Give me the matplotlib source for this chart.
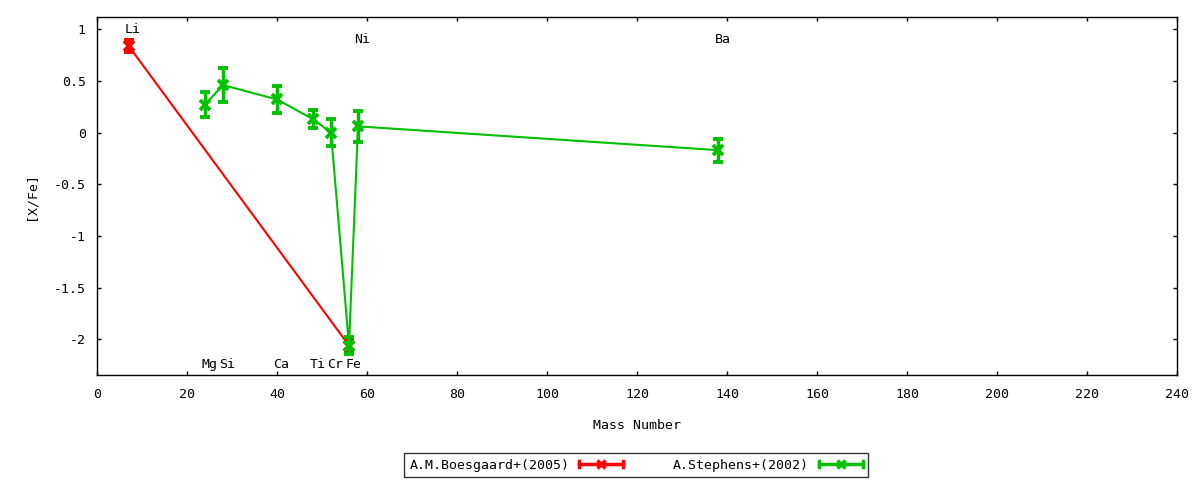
import matplotlib
matplotlib.use("Agg")
import matplotlib.pyplot as plt
from matplotlib.lines import Line2D
from matplotlib.legend_handler import HandlerBase

# ---- data ----
boes_mass = [7, 56]
boes_val = [0.84, -2.06]
boes_err = [0.06, 0.06]

steph_mass = [24, 28, 40, 48, 52, 56, 58, 138]
steph_val = [0.27, 0.46, 0.32, 0.13, 0.00, -2.06, 0.06, -0.17]
steph_err = [0.12, 0.16, 0.13, 0.09, 0.13, 0.08, 0.15, 0.11]

series_names = ["A.M.Boesgaard+(2005)", "A.Stephens+(2002)"]

elem_names = ["Li", "Mg", "Si", "Ca", "Ti", "Cr", "Fe", "Ni", "Ba"]
elem_mass = [7, 24, 28, 40, 48, 52, 56, 58, 138]
elem_label_y = [0.96, -2.28, -2.28, -2.28, -2.28, -2.28, -2.28, 0.865, 0.865]

x_ticks = list(range(0, 241, 20))
y_ticks = [1, 0.5, 0, -0.5, -1, -1.5, -2]
y_tick_labels = ["1", "0.5", "0", "-0.5", "-1", "-1.5", "-2"]

RED = "#ff0000"
GREEN = "#00c000"
FONT = "DejaVu Sans Mono"
FS = 9.5

plt.rcParams["font.family"] = [FONT]

fig = plt.figure(figsize=(12, 4.8), dpi=100)
ax = fig.add_axes([97 / 1200, 1 - 375 / 480, (1177 - 97) / 1200, (375 - 17.3) / 480])

ebkw = dict(lw=1.5, elinewidth=2.5, capsize=3.3, capthick=2.2,
            marker="x", markersize=7, markeredgewidth=2.8)
ax.errorbar(boes_mass, boes_val, yerr=boes_err, color=RED, **ebkw, zorder=3)
ax.errorbar(steph_mass, steph_val, yerr=steph_err, color=GREEN, **ebkw, zorder=4)

for name, m, yy in zip(elem_names, elem_mass, elem_label_y):
    ax.annotate(name, xy=(m, yy), xytext=(-2.5, 0), textcoords="offset points",
                ha="left", va="baseline", fontsize=FS, family=FONT)

ax.set_xlim(0, 240)
ax.set_ylim(-2.345, 1.115)
ax.set_xticks(x_ticks)
ax.set_xticklabels([str(t) for t in x_ticks])
ax.set_yticks(y_ticks)
ax.set_yticklabels(y_tick_labels)
ax.tick_params(direction="in", length=3, width=1, top=True, right=True,
               labelsize=FS, color="black")
ax.tick_params(axis="x", pad=9)
ax.tick_params(axis="y", pad=8)
for s in ax.spines.values():
    s.set_linewidth(1)
    s.set_color("black")

ax.set_xlabel("Mass Number", fontsize=FS, labelpad=13)
ax.set_ylabel("[X/Fe]", fontsize=FS, labelpad=12)


class ErrHandler(HandlerBase):
    def create_artists(self, legend, orig_handle, xdescent, ydescent,
                       width, height, fontsize, trans):
        c = orig_handle.get_color()
        y = height / 2 - ydescent
        x0 = -xdescent
        x1 = -xdescent + width
        h = height * 0.35
        arts = [
            Line2D([x0, x1], [y, y], color=c, lw=2.5),
            Line2D([x0, x0], [y - h, y + h], color=c, lw=2.5),
            Line2D([x1, x1], [y - h, y + h], color=c, lw=2.5),
            Line2D([(x0 + x1) / 2], [y], color=c, marker="x",
                   markersize=6, markeredgewidth=2.5),
        ]
        for a in arts:
            a.set_transform(trans)
        return arts


handles = [Line2D([], [], color=RED), Line2D([], [], color=GREEN)]
leg = fig.legend(handles, series_names, loc="center",
                 bbox_to_anchor=(636 / 1200, 1 - 465 / 480), ncol=2,
                 markerfirst=False, frameon=True, fancybox=False,
                 prop={"family": FONT, "size": FS},
                 handlelength=3.3, handletextpad=0.75, columnspacing=3.8,
                 borderpad=0.4, borderaxespad=0,
                 handler_map={Line2D: ErrHandler()})
leg.get_frame().set_edgecolor("black")
leg.get_frame().set_linewidth(1)
leg.get_frame().set_boxstyle("square", pad=0)

fig.savefig("out.png", dpi=100)
